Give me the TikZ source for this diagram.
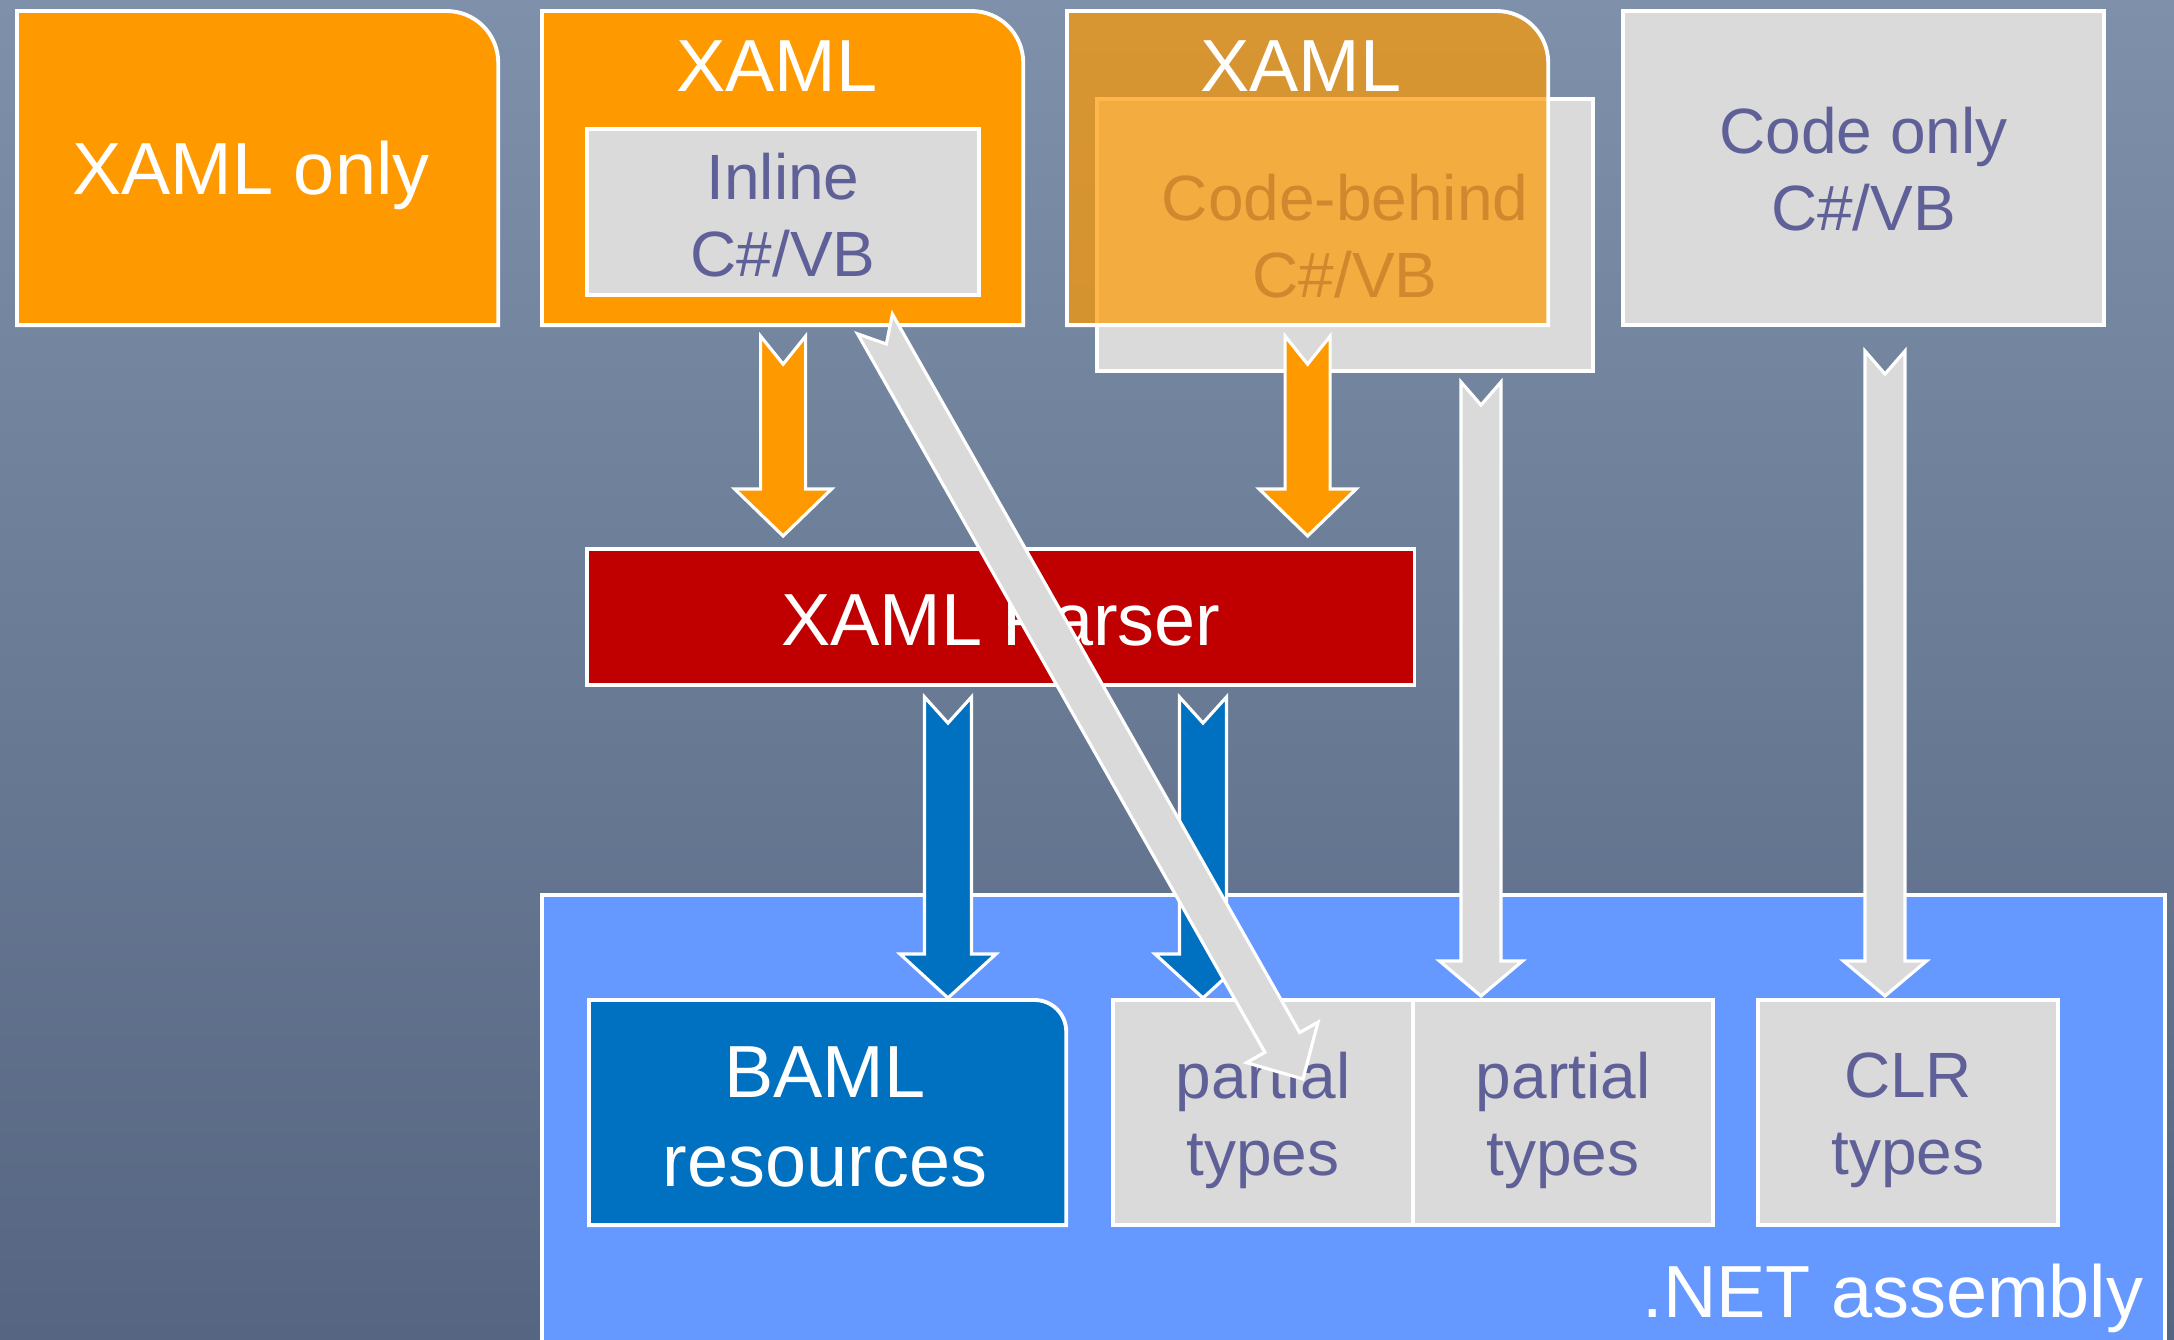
\documentclass[tikz,border=0pt]{standalone}
\usepackage{fontspec}
\setmainfont{Liberation Sans}
\usetikzlibrary{calc}
\definecolor{bgtop}{RGB}{126,144,170}
\definecolor{bgbot}{RGB}{86,102,130}
\definecolor{xorange}{RGB}{255,153,0}
\definecolor{xgray}{RGB}{218,218,218}
\definecolor{xpurple}{RGB}{96,96,152}
\definecolor{xred}{RGB}{192,0,0}
\definecolor{xblue}{RGB}{0,112,192}
\definecolor{xasm}{RGB}{102,153,255}
\tikzset{
  box/.style={inner sep=0, outer sep=0, anchor=north west},
  edge/.style={draw=white, line width=1.1pt},
  big/.style={font=\fontsize{21}{25.2}\selectfont, text=white, align=center, inner sep=0},
  small/.style={font=\fontsize{18.2}{21.9}\selectfont, text=xpurple, align=center, inner sep=0},
  barrow/.style={draw=white, line width=0.9pt, line join=miter},
}
\newcommand{\blockarrow}[7]{%
  \coordinate (ba-h) at ($(#3)!#6!(#2)$);
  \coordinate (ba-n) at ($(#2)!#7!(#3)$);
  \draw[barrow,#1] ($(#2)!#4!90:(#3)$) -- (ba-n) -- ($(#2)!#4!-90:(#3)$)
    -- ($(ba-h)!#4!-90:(#3)$) -- ($(ba-h)!#5!-90:(#3)$) -- (#3)
    -- ($(ba-h)!#5!90:(#3)$) -- ($(ba-h)!#4!90:(#3)$) -- cycle;}
\newcommand{\cornerbox}[4]{%
  \draw[#2] (#1.south west) -- (#1.north west) -- ([xshift=-#3]#1.north east)
    .. controls ([xshift=-#4]#1.north east) and ([yshift=-#4]#1.north east) ..
    ([yshift=-#3]#1.north east) -- (#1.south east) -- cycle;}
\begin{document}
\begin{tikzpicture}[x=0.01cm, y=-0.01cm]
\useasboundingbox (0,0) rectangle (2174,1340);
\shade[top color=bgtop, bottom color=bgbot] (0,0) rectangle (2174,1340);

% .NET assembly
\node[box, edge, fill=xasm, minimum width=16.22cm, minimum height=4.7cm] (asm) at (542,895) {};

% top row
\node[box, minimum width=4.81cm, minimum height=3.14cm] (xo) at (17,11) {};
\cornerbox{xo}{edge, fill=xorange}{0.52cm}{0.23cm}
\node[big, anchor=base] (xot) at (251,195) {XAML only};

\node[box, minimum width=4.81cm, minimum height=3.14cm] (x2) at (542,11) {};
\cornerbox{x2}{edge, fill=xorange}{0.52cm}{0.23cm}
\node[big, anchor=base] (x2t) at (777,92) {XAML};
\node[box, edge, fill=xgray, minimum width=3.92cm, minimum height=1.66cm] (inl) at (587,129) {};
\node[small] (inlt) at ($(inl)+(0,3)$) {Inline\\C\#/VB};

\node[box, edge, fill=xgray, minimum width=4.96cm, minimum height=2.72cm] (cb) at (1097,99) {};
\node[small] (cbt) at ($(cb)+(0,1)$) {Code-behind\\C\#/VB};
\node[box, minimum width=4.81cm, minimum height=3.14cm] (x3) at (1067,11) {};
\cornerbox{x3}{edge, fill=xorange, fill opacity=0.7}{0.52cm}{0.23cm}
\node[big, anchor=base] (x3t) at (1301,92) {XAML};

\node[box, edge, fill=xgray, minimum width=4.81cm, minimum height=3.14cm] (co) at (1623,11) {};
\node[small] (cot) at ($(co)+(0,1)$) {Code only\\C\#/VB};

% parser
\node[box, edge, fill=xred, minimum width=8.27cm, minimum height=1.36cm] (par) at (587,549) {};
\node[big, anchor=base] (part) at (1001,646) {XAML Parser};

% assembly contents
\node[box, minimum width=4.77cm, minimum height=2.25cm] (baml) at (589,1000) {};
\cornerbox{baml}{edge, fill=xblue}{0.32cm}{0.14cm}
\node[big] (bamlt) at (825,1117) {BAML\\resources};
\node[box, edge, fill=xgray, minimum width=3cm, minimum height=2.25cm] (p1) at (1113,1000) {};
\node[box, edge, fill=xgray, minimum width=3cm, minimum height=2.25cm] (p2) at (1413,1000) {};
\node[box, edge, fill=xgray, minimum width=3cm, minimum height=2.25cm] (clr) at (1758,1000) {};
\node[small] (p1t) at ($(p1)+(0,8)$) {partial\\types};
\node[small] (p2t) at ($(p2)+(0,8)$) {partial\\types};
\node[small] (clrt) at ($(clr)+(0,8)$) {CLR\\types};
\node[big, anchor=base east] (asmt) at (2144,1318) {.NET assembly};

% arrow end points
\coordinate (a1s) at ($(inl.center |- x2.south)+(0,11)$);
\coordinate (a1e) at ($(inl.center |- par.north)+(0,-13)$);
\coordinate (a2s) at ($(x3.south)+(0,11)$);
\coordinate (a2e) at ($(x3.south |- par.north)+(0,-13)$);
\coordinate (b1s) at (948,697);
\coordinate (b1e) at (948,998);
\coordinate (b2s) at (1203,697);
\coordinate (b2e) at (1203,998);
\coordinate (g1s) at (1481,382);
\coordinate (g1e) at (1481,996);
\coordinate (g2s) at (1885,351);
\coordinate (g2e) at (1885,996);
\coordinate (dgs) at (875,324);
\coordinate (dge) at (1303,1079);

% arrows
\blockarrow{fill=xorange}{a1s}{a1e}{0.225cm}{0.485cm}{0.47cm}{0.28cm}
\blockarrow{fill=xorange}{a2s}{a2e}{0.225cm}{0.485cm}{0.47cm}{0.28cm}
\blockarrow{fill=xblue}{b1s}{b1e}{0.235cm}{0.48cm}{0.44cm}{0.26cm}
\blockarrow{fill=xblue}{b2s}{b2e}{0.235cm}{0.48cm}{0.44cm}{0.26cm}
\blockarrow{fill=xgray}{g1s}{g1e}{0.2cm}{0.415cm}{0.35cm}{0.23cm}
\blockarrow{fill=xgray}{g2s}{g2e}{0.2cm}{0.415cm}{0.35cm}{0.23cm}
\blockarrow{fill=xgray}{dgs}{dge}{0.2cm}{0.41cm}{0.42cm}{0.23cm}
\end{tikzpicture}
\end{document}
